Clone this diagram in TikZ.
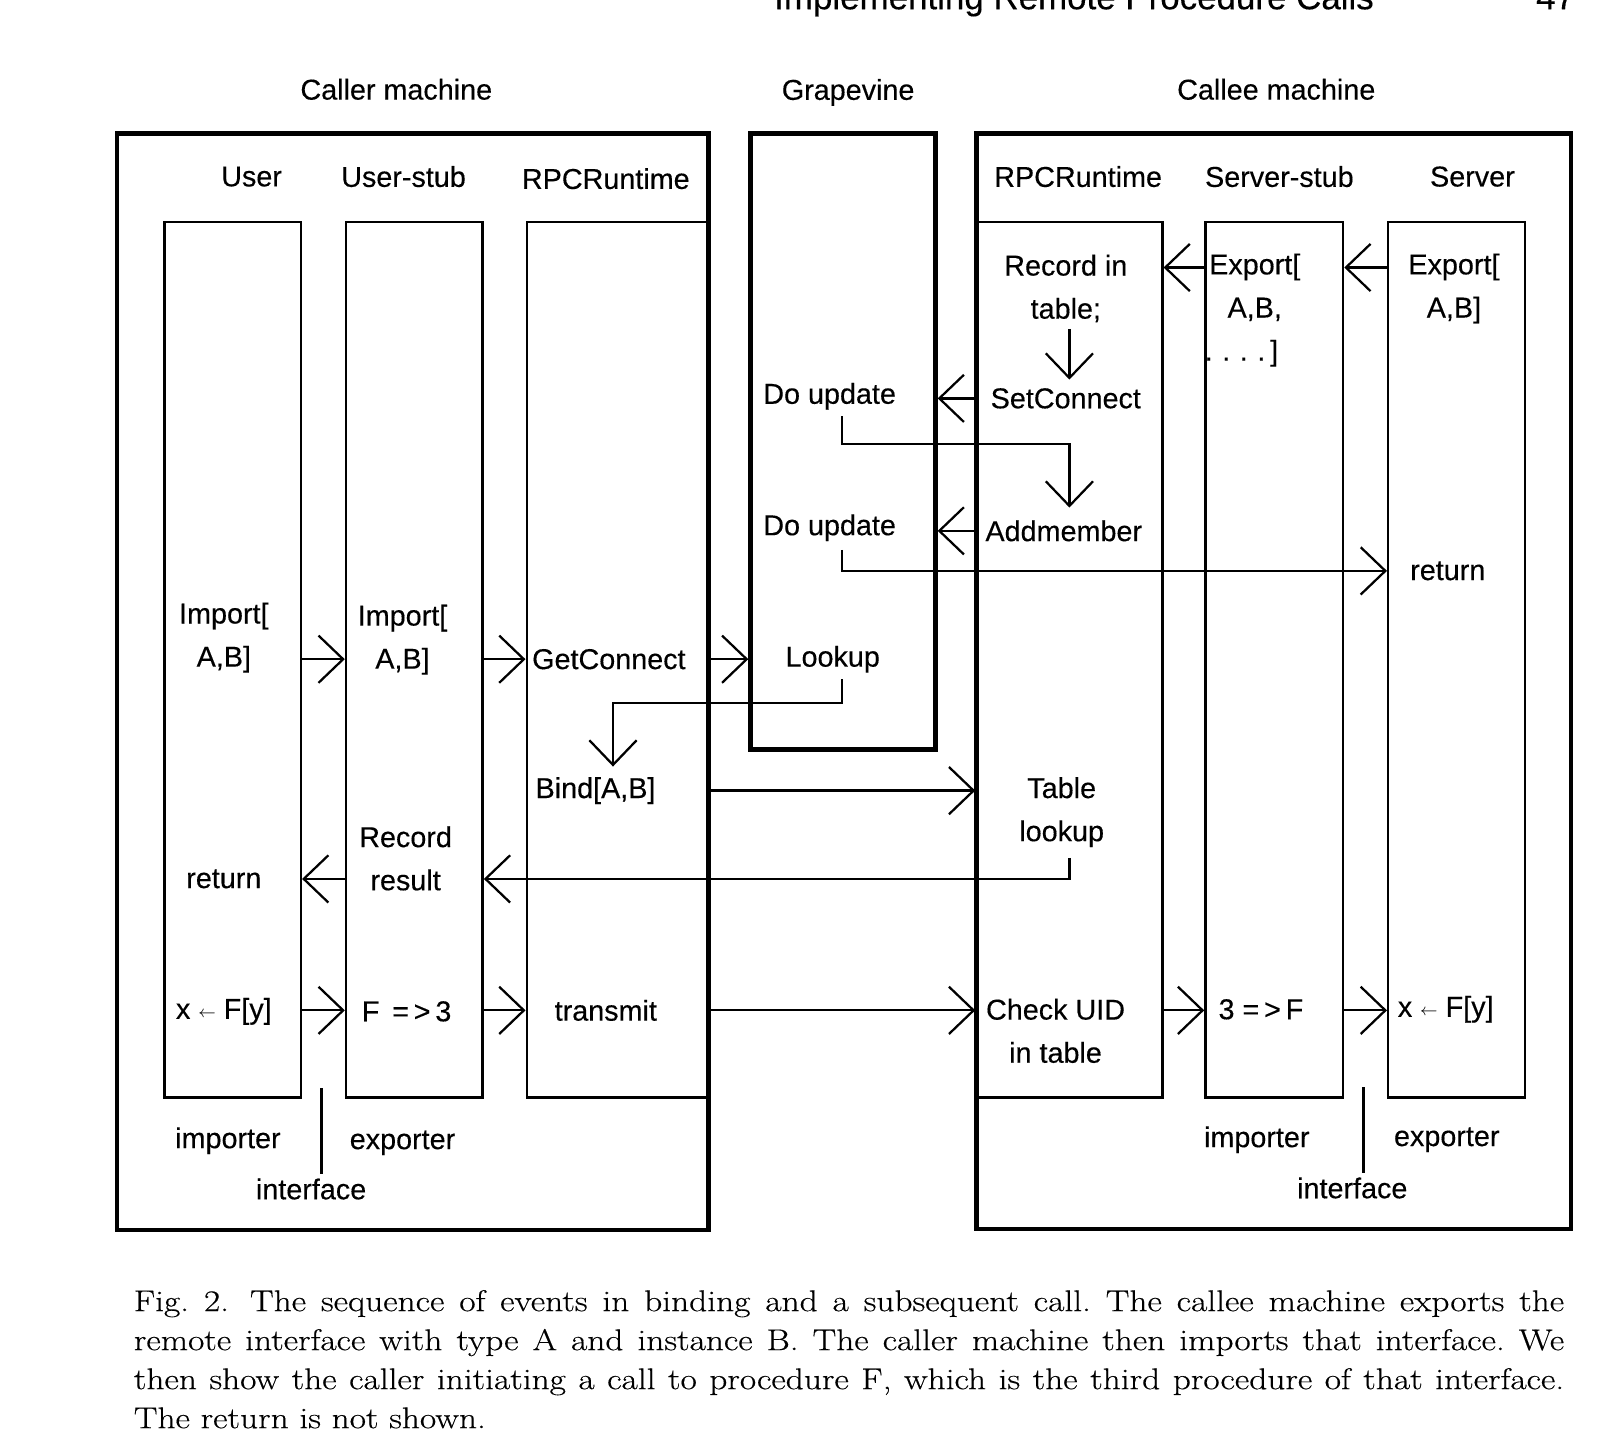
\documentclass[tikz,border=0pt]{standalone}
\usepackage{fontspec}
\setsansfont{Liberation Sans}[FakeBold=0.3]
\newfontfamily\capfont{Latin Modern Roman}[FakeStretch=1.18,FakeBold=0.4]
\usetikzlibrary{arrows.meta,fit}
\newcommand{\larr}{\raisebox{0.5pt}{\footnotesize$\leftarrow$}}
\begin{document}
\begin{tikzpicture}[x={(0.5pt,0)}, y={(0,-0.5pt)},
  lbl/.style={font=\sffamily\fontsize{14pt}{21pt}\selectfont, inner sep=0pt, align=center},
  outerbox/.style={draw, line width=2.2pt, inner sep=0pt},
  colbox/.style={draw, line width=1.2pt, inner sep=0pt},
  conn/.style={line width=1.1pt},
  arr/.style={conn, -{Straight Barb[length=12pt,width=23pt]}},
]
\useasboundingbox (0,0) rectangle (1568,1395);

% running header (cut off at the top of the page, as in the scan)
\node[lbl, font=\sffamily\fontsize{17pt}{20pt}\selectfont, anchor=base] (hdr) at (1046,9) {Implementing Remote Procedure Calls};
\node[lbl, font=\sffamily\fontsize{17pt}{20pt}\selectfont, anchor=base] (pg) at (1515,9) {47};

% titles
\node[lbl] (tcaller) at (386,87) {Caller machine};
\node[lbl] (tgrape) at (826,90) {Grapevine};
\node[lbl] (tcallee) at (1243,87) {Callee machine};

% outer boxes
\node[outerbox, fit={(114,130)(690,1198)}] (caller) {};
\node[outerbox, fit={(731,130)(911,730)}] (grape) {};
\node[outerbox, fit={(951,130)(1530,1197)}] (callee) {};

% columns
\node[colbox, fit={(160,216)(293,1069)}] (user) {};
\node[colbox, fit={(337,216)(470,1069)}] (ustub) {};
\node[colbox, fit={(513,216)(690,1069)}] (crpc) {};
\node[colbox, fit={(951,216)(1132,1069)}] (srpc) {};
\node[colbox, fit={(1174,216)(1308,1069)}] (sstub) {};
\node[colbox, fit={(1352,216)(1485,1069)}] (server) {};

% column labels
\node[lbl] (luser) at (245,172) {User};
\node[lbl] (lustub) at (393,172) {User-stub};
\node[lbl] (lcrpc) at (590,174) {RPCRuntime};
\node[lbl] (lsrpc) at (1050,172) {RPCRuntime};
\node[lbl] (lsstub) at (1246,172) {Server-stub};
\node[lbl] (lserver) at (1434,172) {Server};

% texts
\node[lbl] (imp1) at (218,621) {Import[\\A,B]};
\node[lbl] (imp2) at (392,623) {Import[\\A,B]};
\node[lbl] (getc) at (593,642) {GetConnect};
\node[lbl] (lookup) at (811,642) {Lookup};
\node[lbl] (du1) at (808,386) {Do update};
\node[lbl] (du2) at (808,514) {Do update};
\node[lbl] (rec) at (1038,281) {Record in\\table;};
\node[lbl] (setc) at (1038,388) {SetConnect};
\node[lbl] (addm) at (1036,517) {Addmember};
\node[lbl] (tl) at (1034,791) {Table\\lookup};
\node[lbl] (chk) at (1028,1004) {Check UID\\in table};
\node[lbl] (exp1) at (1222,302) {Export[\\A,B,\\.\,\,.\,\,.\,\,.\,]\hspace*{13pt}};
\node[lbl] (exp2) at (1416,281) {Export[\\A,B]};
\node[lbl] (sret) at (1410,556) {return};
\node[lbl] (t3) at (1228,983) {3 =\,>\,F};
\node[lbl] (xf2) at (1408,983) {x \larr{} F[y]};
\node[lbl] (bind) at (580,770) {Bind[A,B]};
\node[lbl] (rres) at (395,836) {Record\\result};
\node[lbl] (uret) at (218,856) {return};
\node[lbl] (xf1) at (218,985) {x \larr{} F[y]};
\node[lbl] (f3) at (396,985) {F \,=\,>\,3};
\node[lbl] (trans) at (590,984) {transmit};
\node[lbl] (impc) at (222,1111) {importer};
\node[lbl] (expc) at (392,1113) {exporter};
\node[lbl] (ifc) at (303,1158) {interface};
\node[lbl] (imps) at (1224,1110) {importer};
\node[lbl] (exps) at (1409,1110) {exporter};
\node[lbl] (ifs) at (1317,1157) {interface};

% export / binding on the callee
\draw[arr] ([yshift=-7pt]server.west |- exp2.north) -- ([yshift=-7pt]sstub.east |- exp2.north);
\draw[arr] ([yshift=-7pt]sstub.west |- exp2.north) -- ([yshift=-7pt]srpc.east |- exp2.north);
\draw[arr] ([yshift=-3pt]rec.south -| srpc.center) -- ([yshift=4pt]setc.north -| srpc.center);
\draw[arr] (srpc.west |- setc) -- (grape.east |- setc);
\draw[arr] ([xshift=6pt,yshift=-3pt]du1.south) -- ++(0,27) -| ([yshift=6pt]addm.north -| srpc.center);
\draw[arr] (srpc.west |- addm) -- (grape.east |- addm);
\draw[arr] ([xshift=6pt,yshift=-4pt]du2.south) |- (server.west |- sret);

% import on the caller
\draw[arr] (user.east |- getc) -- (ustub.west |- getc);
\draw[arr] (ustub.east |- getc) -- (crpc.west |- getc);
\draw[arr] (crpc.east |- getc) -- (grape.west |- getc);
\draw[arr] ([xshift=4.5pt,yshift=-3pt]lookup.south) -- ++(0,23) -| ([xshift=8.5pt,yshift=5pt]bind.north);
\draw[arr] (crpc.east |- bind) -- (srpc.west |- bind);
\draw[arr] ([yshift=-5pt]tl.south -| srpc.center) |- (ustub.east |- uret);
\draw[arr] (ustub.west |- uret) -- (user.east |- uret);

% the call
\draw[arr] (user.east |- trans) -- (ustub.west |- trans);
\draw[arr] (ustub.east |- trans) -- (crpc.west |- trans);
\draw[arr] (crpc.east |- trans) -- (srpc.west |- trans);
\draw[arr] (srpc.east |- trans) -- (sstub.west |- trans);
\draw[arr] (sstub.east |- trans) -- (server.west |- trans);

% interface markers
\draw[conn] ([xshift=5pt,yshift=2pt]ifc.north) -- ++(0,-84);
\draw[conn] ([xshift=5.5pt,yshift=2pt]ifs.north) -- ++(0,-84);

% caption
\node[anchor=north west, inner sep=0pt, text width=696.5pt, align=justify,
      font=\capfont\fontsize{14.6pt}{19pt}\selectfont\frenchspacing] (cap) at (130,1256)
 {Fig.~2.\hspace{0.7em}The sequence of events in binding and a subsequent call. The callee machine exports the\linebreak
  remote interface with type A and instance B. The caller machine then imports that interface. We\linebreak
  then show the caller initiating a call to procedure F, which is the third procedure of that interface.\linebreak
  The return is not shown.};
\end{tikzpicture}
\end{document}
